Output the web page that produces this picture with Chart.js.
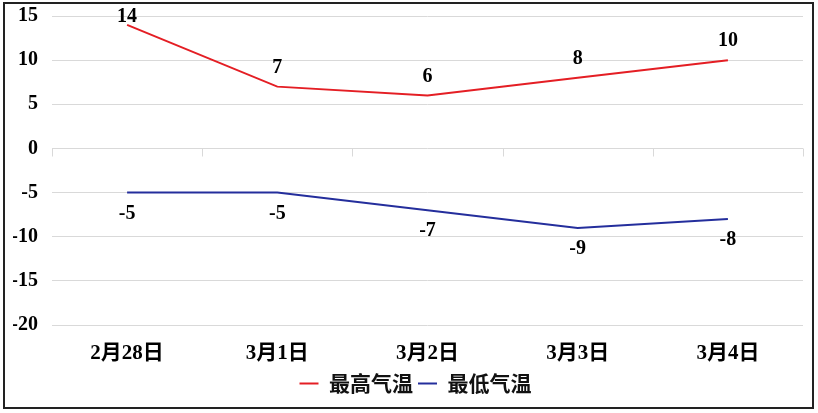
<!DOCTYPE html>
<html>
<head>
<meta charset="utf-8">
<script src="https://cdn.jsdelivr.net/npm/chart.js@4.4.1/dist/chart.umd.min.js"></script>
<style>
  html, body { margin: 0; padding: 0; background: #fff; }
  #wrap { position: relative; width: 818px; height: 413px; }
  #frame { position: absolute; left: 3px; top: 2px; width: 807px; height: 403px; border: 2px solid #222; pointer-events: none; }
</style>
</head>
<body>
<div id="wrap">
  <canvas id="chart" width="818" height="413"></canvas>
  <div id="frame"></div>
</div>
<script>
  const categories = ['2月28日', '3月1日', '3月2日', '3月3日', '3月4日'];
  const highTemps = [14, 7, 6, 8, 10];
  const lowTemps = [-5, -5, -7, -9, -8];
  const seriesNames = ['最高气温', '最低气温'];
  const yMin = -20;
  const yMax = 15;
  const yStep = 5;

  const RED = 'rgb(228, 30, 36)';
  const BLUE = 'rgb(36, 46, 156)';
  const GRID = '#d9d9d9';
  const SERIF = '"Liberation Serif", "Times New Roman", "Noto Sans CJK SC", serif';

  // short tick marks hanging under the zero line, between categories
  const zeroTicks = {
    id: 'zeroTicks',
    beforeDatasetsDraw(chart) {
      const xs = chart.scales.x;
      const y0 = Math.round(chart.scales.y.getPixelForValue(0)) + 0.5;
      const ctx = chart.ctx;
      ctx.save();
      ctx.strokeStyle = GRID;
      ctx.lineWidth = 1;
      ctx.beginPath();
      for (let i = 0; i <= categories.length; i++) {
        const x = Math.round(xs.getPixelForValue(i - 0.5)) + 0.5;
        ctx.moveTo(x, y0);
        ctx.lineTo(x, y0 + 8);
      }
      ctx.stroke();
      ctx.restore();
    }
  };

  // draws the value next to each point: above for the high line, below for the low line
  const valueLabels = {
    id: 'valueLabels',
    afterDatasetsDraw(chart) {
      const ctx = chart.ctx;
      const area = chart.chartArea;
      ctx.save();
      ctx.font = 'bold 20px ' + SERIF;
      ctx.fillStyle = '#000';
      ctx.textAlign = 'center';
      ctx.textBaseline = 'middle';
      chart.data.datasets.forEach((ds, i) => {
        const meta = chart.getDatasetMeta(i);
        meta.data.forEach((pt, j) => {
          let y = ds.labelSide === 'above' ? pt.y - 19 : pt.y + 21;
          y = Math.max(y, area.top + 1);
          ctx.fillText(String(ds.data[j]), pt.x, y);
        });
      });
      ctx.restore();
    }
  };

  new Chart(document.getElementById('chart'), {
    type: 'line',
    data: {
      labels: categories,
      datasets: [
        {
          label: seriesNames[0],
          data: highTemps,
          borderColor: RED,
          backgroundColor: RED,
          borderWidth: 2,
          pointRadius: 0,
          pointStyle: 'line',
          tension: 0,
          labelSide: 'above',
        },
        {
          label: seriesNames[1],
          data: lowTemps,
          borderColor: BLUE,
          backgroundColor: BLUE,
          borderWidth: 2,
          pointRadius: 0,
          pointStyle: 'line',
          tension: 0,
          labelSide: 'below',
        },
      ],
    },
    options: {
      responsive: false,
      animation: false,
      layout: { padding: { left: 13, top: 16, right: 0, bottom: 9 } },
      plugins: {
        tooltip: { enabled: false },
        legend: {
          position: 'bottom',
          labels: {
            usePointStyle: true,
            pointStyle: 'line',
            pointStyleWidth: 19,
            padding: 5,
            color: '#111',
            font: { family: '"Noto Sans CJK SC", sans-serif', size: 21, weight: 'bold' },
          },
        },
      },
      scales: {
        x: {
          type: 'category',
          offset: true,
          grid: { display: false },
          border: { display: false },
          ticks: {
            color: '#000',
            padding: 8,
            maxRotation: 0,
            font: { family: SERIF, size: 21, weight: 'bold' },
          },
          afterFit(scale) { scale.height = 43; },
        },
        y: {
          min: yMin,
          max: yMax,
          ticks: {
            stepSize: yStep,
            color: '#000',
            padding: 14,
            font: { family: SERIF, size: 20, weight: 'bold' },
          },
          grid: { color: GRID, drawTicks: false },
          border: { display: false },
          afterFit(scale) {
            scale.width = 39;
            scale.paddingTop = 12;
            scale.paddingBottom = 12;
          },
        },
        yRight: {
          position: 'right',
          grid: { display: false },
          border: { display: false },
          ticks: { display: false },
          afterFit(scale) { scale.width = 15; },
        },
      },
    },
    plugins: [zeroTicks, valueLabels],
  });
</script>
</body>
</html>
